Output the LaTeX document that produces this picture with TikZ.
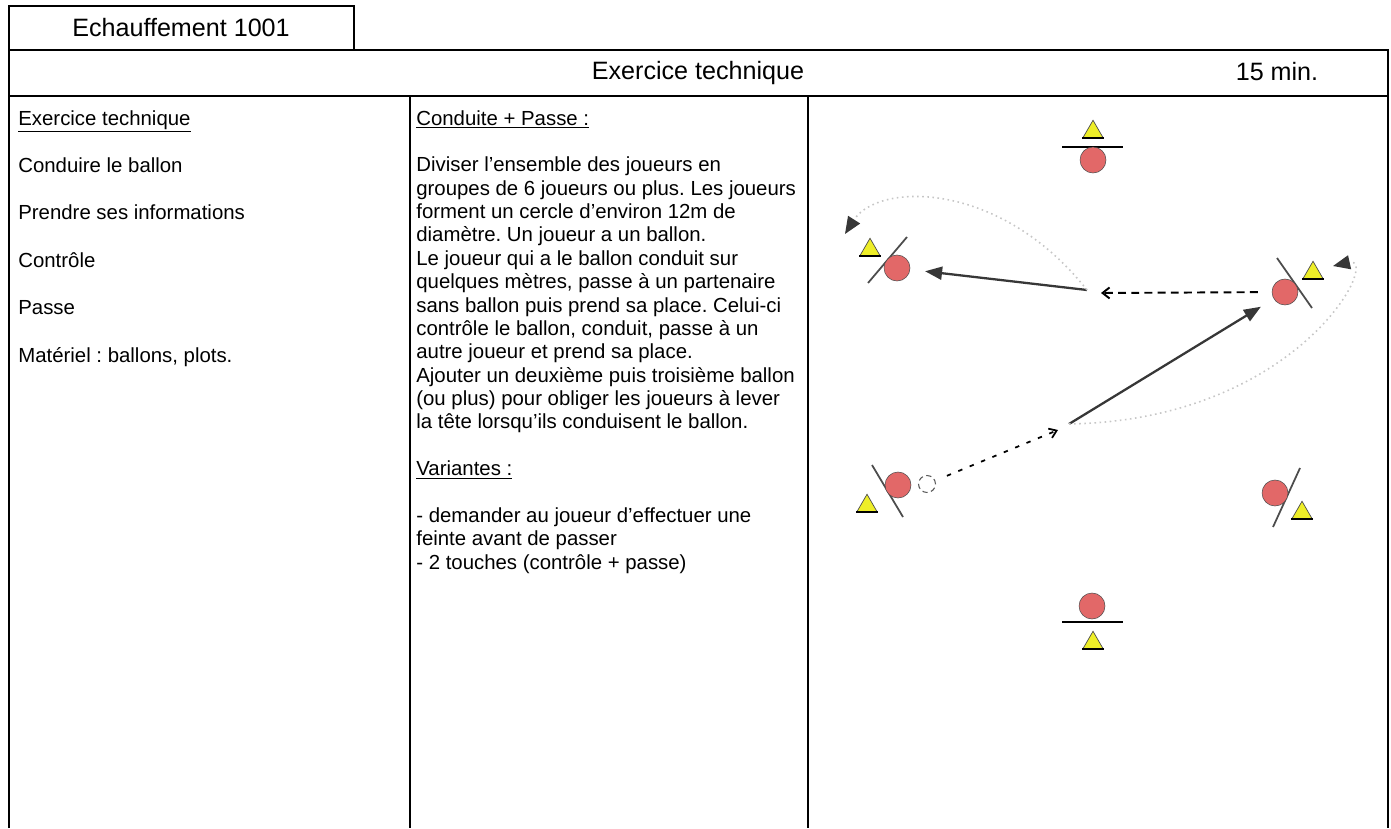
\documentclass[tikz,border=0pt]{standalone}
\usepackage{fontspec}
\setmainfont{Liberation Sans}
\usepackage{tikz}
\usetikzlibrary{arrows.meta,shapes.geometric,positioning}
\definecolor{rouge}{RGB}{226,104,104}
\definecolor{jaune}{RGB}{238,238,40}
\definecolor{gris}{RGB}{55,55,55}
\frenchspacing

\tikzset{
  cadre/.style={line width=1pt,black},
  titre/.style={font=\fontsize{14.3}{17}\selectfont,inner sep=0pt},
  texte/.style={align=left,inner sep=0pt,font=\fontsize{11.6}{13.5}\selectfont},
  joueur/.style={circle,fill=rouge,draw=gray!60!black,line width=0.3pt,minimum size=0.52cm,inner sep=0pt},
  plot/.style={regular polygon,regular polygon sides=3,fill=jaune,draw=black!70,line width=0.4pt,minimum size=0.47cm,inner sep=0pt},
  socle/.style={black,line width=1pt},
  barre/.style={black,line width=1.5pt},
  biais/.style={gray!60!black,line width=1pt},
  ballon/.style={circle,draw=gray!70!black,densely dashed,line width=0.6pt,fill=white,minimum size=0.34cm,inner sep=0pt},
  passe/.style={gris,line width=1.3pt,-{Triangle[length=0.34cm,width=0.26cm]}},
  course/.style={black,line width=1.1pt,dash pattern=on 4.5pt off 3pt,-{Straight Barb[length=0.14cm,width=0.22cm]}},
  conduite/.style={black,line width=1pt,dash pattern=on 2.5pt off 4.5pt,-{Straight Barb[length=0.14cm,width=0.2cm]}},
  courbe/.style={gray!45,line width=0.9pt,dotted,-{Triangle[length=0.34cm,width=0.28cm,color=gris]}}
}

\begin{document}
\begin{tikzpicture}[x=0.02cm,y=-0.02cm]
\useasboundingbox (0,0) rectangle (1391,828);
% cadre de la fiche
\draw[cadre] (9,6) rectangle (354,50);
\draw[cadre] (9,828) -- (9,50) -- (1388,50) -- (1388,828);
\draw[cadre] (9,96) -- (1388,96);
\draw[cadre] (410,96) -- (410,828);
\draw[cadre] (808,96) -- (808,828);

\node[titre] (seance) at (181,28) {Echauffement 1001};
\node[titre] (theme) at (698,73) {Exercice technique};
\node[titre] (duree) at (1277,72) {15 min.};

% colonne objectifs
\node[texte,anchor=north west] (objectifs) at (18,110) {\underline{Exercice technique}\\ \mbox{}\\
Conduire le ballon\\ \mbox{}\\
Prendre ses informations\\ \mbox{}\\
Contrôle\\ \mbox{}\\
Passe\\ \mbox{}\\
Matériel : ballons, plots.};

% colonne consignes
\node[texte,anchor=north west,font=\fontsize{11.6}{13.3}\selectfont] (consignes) at (416,110) {\underline{Conduite + Passe :}\\ \mbox{}\\
Diviser l'ensemble des joueurs en\\
groupes de 6 joueurs ou plus. Les joueurs\\
forment un cercle d'environ 12m de\\
diamètre. Un joueur a un ballon.\\
Le joueur qui a le ballon conduit sur\\
quelques mètres, passe à un partenaire\\
sans ballon puis prend sa place. Celui-ci\\
contrôle le ballon, conduit, passe à un\\
autre joueur et prend sa place.\\
Ajouter un deuxième puis troisième ballon\\
(ou plus) pour obliger les joueurs à lever\\
la tête lorsqu'ils conduisent le ballon.\\ \mbox{}\\
\underline{Variantes :}\\ \mbox{}\\
- demander au joueur d'effectuer une\\
feinte avant de passer\\
- 2 touches (contrôle + passe)};

% schema : joueurs et plots
\draw[barre] (1062,147) -- (1123,147);
\node[joueur] (jHaut) at (1093,160) {};
\node[plot] (pHaut) at (1093,132) {};

\draw[biais] (868,283) -- (907,237);
\node[joueur] (jGauche) at (897,268) {};
\node[plot] (pGauche) at (870,250) {};

\draw[biais] (1277,258) -- (1312,308);
\node[joueur] (jDroite) at (1285,292) {};
\node[plot] (pDroite) at (1313,273) {};

\draw[biais] (872,465) -- (903,517);
\node[joueur] (jBasGauche) at (898,485) {};
\node[plot] (pBasGauche) at (867,506) {};
\node[ballon] (balle) at (927,484) {};

\draw[biais] (1300,468) -- (1273,527);
\node[joueur] (jBasDroite) at (1275,493) {};
\node[plot] (pBasDroite) at (1302,513) {};

\draw[barre] (1062,622) -- (1123,622);
\node[joueur] (jBas) at (1092,606) {};
\node[plot] (pBas) at (1093,643) {};

\foreach \p in {pHaut,pGauche,pDroite,pBasGauche,pBasDroite,pBas}
  \draw[socle] (\p.corner 2) -- (\p.corner 3);

% deplacements
\coordinate (arretHaut) at (1101,293);
\coordinate (departHaut) at (1087,290);
\coordinate (finBoucleHaut) at (845,234);
\coordinate (arretBas) at (1058,430);
\coordinate (departBas) at (1069,424);
\coordinate (finBoucleBas) at (1333,266);

\draw[course,shorten <=0.28cm] (jDroite) -- (arretHaut);
\draw[passe,shorten >=0.3cm] (departHaut) -- (jGauche);
\draw[courbe] (departHaut) .. controls (1000,180) and (878,182) .. (finBoucleHaut);
\draw[conduite,shorten <=0.25cm] (balle) -- (arretBas);
\draw[passe,shorten >=0.3cm] (departBas) -- (jDroite);
\draw[courbe] (departBas) .. controls (1300,420) and (1382,255) .. (finBoucleBas);
\end{tikzpicture}
\end{document}
